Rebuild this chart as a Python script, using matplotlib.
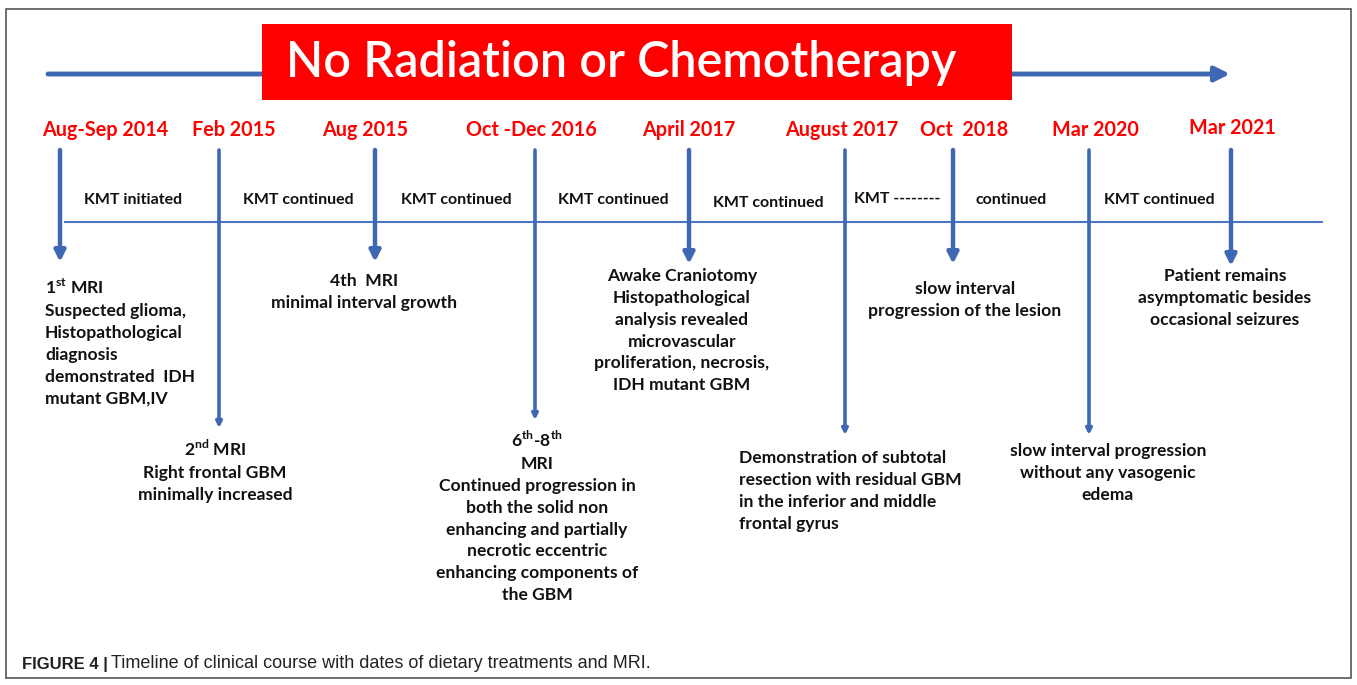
import matplotlib
matplotlib.use("Agg")
import matplotlib.pyplot as plt
from matplotlib.patches import Rectangle

# timeline events
dates = ["Aug-Sep 2014", "Feb 2015", "Aug 2015", "Oct -Dec 2016", "April 2017",
         "August 2017", "Oct  2018", "Mar 2020", "Mar 2021"]
date_x = [105, 234, 365, 531, 689, 842, 964, 1095, 1232]
date_y = [130, 130, 130, 130, 130, 130, 130, 130, 128]
event_x = [60, 219, 375, 535, 689, 845, 953, 1089, 1231]
arrow_end = [262, 428, 262, 420, 264, 435, 264, 435, 266]
long_arrow = [False, True, False, True, False, True, False, True, False]

kmt_labels = ["KMT initiated", "KMT continued", "KMT continued", "KMT continued",
              "KMT continued", "KMT --------", "continued", "KMT continued"]
kmt_x = [133, 298, 456, 613, 768, 897, 1011, 1159]
kmt_y = [200, 200, 200, 200, 203, 199, 200, 200]

notes = [
    "1$^{\\mathregular{st}}$ MRI\nSuspected glioma,\nHistopathological\ndiagnosis\ndemonstrated  IDH\nmutant GBM,IV",
    "2$^{\\mathregular{nd}}$ MRI\nRight frontal GBM\nminimally increased",
    "4th  MRI\nminimal interval growth",
    "6$^{\\mathregular{th}}$-8$^{\\mathregular{th}}$\nMRI\nContinued progression in\nboth the solid non\nenhancing and partially\nnecrotic eccentric\nenhancing components of\nthe GBM",
    "Awake Craniotomy\nHistopathological\nanalysis revealed\nmicrovascular\nproliferation, necrosis,\nIDH mutant GBM",
    "Demonstration of subtotal\nresection with residual GBM\nin the inferior and middle\nfrontal gyrus",
    "slow interval\nprogression of the lesion",
    "slow interval progression\nwithout any vasogenic\nedema",
    "Patient remains\nasymptomatic besides\noccasional seizures",
]
note_x = [45, 215, 364, 537, 682, 739, 965, 1108, 1225]
note_y = [278, 439, 273, 430, 268, 450, 281, 443, 268]
note_align = ["left", "center", "center", "center", "center", "left", "center", "center", "center"]

banner = "No Radiation or Chemotherapy"
caption_bold = "FIGURE 4 |"
caption = "Timeline of clinical course with dates of dietary treatments and MRI."

blue = "#3f68b4"
red = "#fe0000"
font = "Lato"

fig = plt.figure(figsize=(13.57, 6.85), dpi=100)
ax = fig.add_axes([0, 0, 1, 1])
ax.set_xlim(0, 1357)
ax.set_ylim(685, 0)
ax.axis("off")

# outer frame
ax.add_patch(Rectangle((6, 9), 1345, 669, fill=False, ec="#555555", lw=1.2))

# top arrow behind the banner
ax.annotate("", xy=(1230, 74), xytext=(48, 74),
            arrowprops=dict(arrowstyle="-|>", lw=3.5, color=blue, mutation_scale=22,
                            shrinkA=0, shrinkB=0))
ax.add_patch(Rectangle((262, 24), 750, 76, fc=red, ec="none", zorder=3))
ax.text(621, 63, banner, color="white", fontsize=35, fontfamily=font,
        fontweight="semibold", ha="center", va="center", zorder=4)

# thin horizontal timeline
ax.plot([65, 1322], [222, 222], color="#4a76c4", lw=1.5)

for d, dx, dy, x, ye, lng in zip(dates, date_x, date_y, event_x, arrow_end, long_arrow):
    ax.text(dx, dy, d, color=red, fontsize=14.2, fontfamily=font,
            fontweight="bold", ha="center", va="center")
    ax.annotate("", xy=(x, ye), xytext=(x, 150),
                arrowprops=dict(arrowstyle="-|>", lw=3.2 if not lng else 2.6, color=blue,
                                mutation_scale=16 if not lng else 8,
                                shrinkA=0, shrinkB=0))

for t, x, y in zip(kmt_labels, kmt_x, kmt_y):
    ax.text(x, y, t, color="#111111", fontsize=11.5, fontfamily=font,
            fontweight="bold", ha="center", va="center")

for t, x, y, al in zip(notes, note_x, note_y, note_align):
    ax.text(x, y, t, color="#111111", fontsize=12.6, fontfamily=font,
            fontweight="bold", ha=al, va="top", multialignment=al,
            linespacing=1.45)

# caption
cap_font = ["Liberation Sans Narrow", "Liberation Sans"]
ax.text(22, 664, caption_bold, fontsize=12, fontweight="bold",
        fontfamily=cap_font, va="center", color="#222222")
ax.text(111, 664, caption, fontsize=13, fontfamily=cap_font,
        va="center", color="#222222")

fig.savefig("out.png", dpi=100)
